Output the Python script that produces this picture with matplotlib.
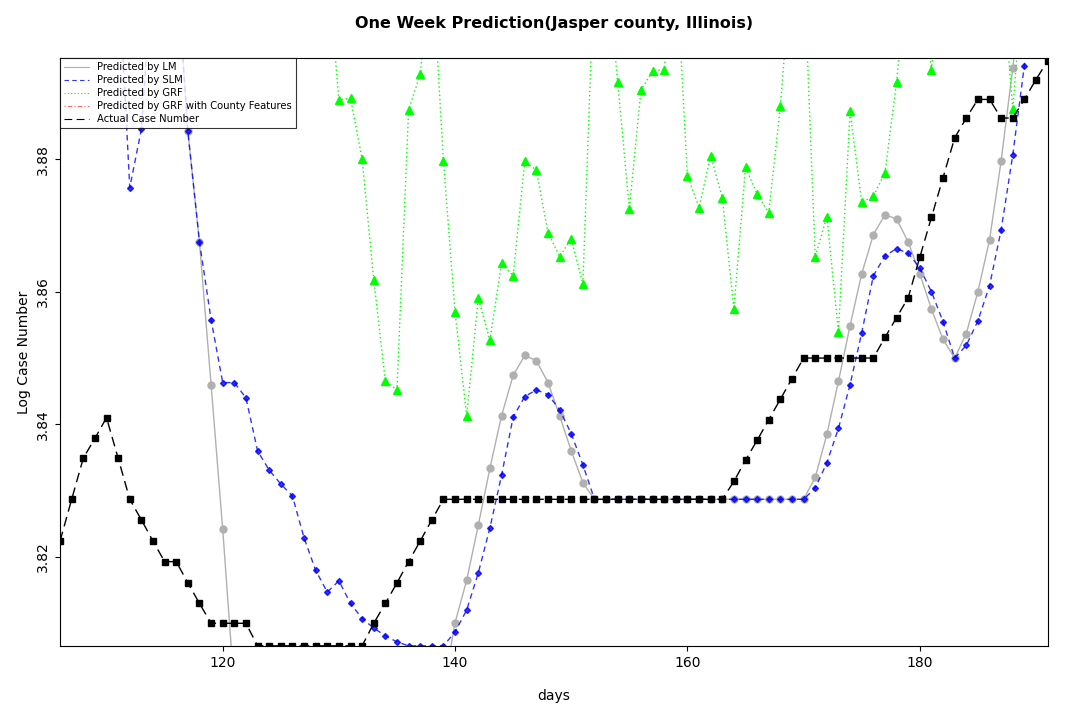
import numpy as np
import matplotlib
matplotlib.use("Agg")
import matplotlib.pyplot as plt

days = np.arange(106, 192)

# actual log case numbers
actual = [3.8224, 3.8287, 3.8349, 3.8379, 3.8410, 3.8349, 3.8287, 3.8256, 3.8224, 3.8193,
          3.8193, 3.8161, 3.8130, 3.8100, 3.8100, 3.8100, 3.8100] + [3.8066] * 10 + \
         [3.8100, 3.8130, 3.8161, 3.8193, 3.8224, 3.8256] + [3.8287] * 25 + \
         [3.8314, 3.8346, 3.8376, 3.8407, 3.8438, 3.8469] + [3.8500] * 7 + \
         [3.8531, 3.8561, 3.8591, 3.8652, 3.8712, 3.8772, 3.8832, 3.8862, 3.8890, 3.8890,
          3.8862, 3.8862, 3.8890, 3.8920, 3.8948]

lm = [3.91] * 11 + [3.8842, 3.8675, 3.8460, 3.8242] + [3.80] * 19 + \
     [3.8101, 3.8165, 3.8248, 3.8334, 3.8413, 3.8474, 3.8504, 3.8496, 3.8463, 3.8413,
      3.8360, 3.8312] + [3.8287] * 19 + \
     [3.8320, 3.8385, 3.8465, 3.8549, 3.8627, 3.8686, 3.8716, 3.8710, 3.8675, 3.8627,
      3.8574, 3.8528, 3.8500, 3.8537, 3.8600, 3.8678, 3.8797, 3.8937, 3.91, 3.91, 3.91]

slm = [3.91] * 6 + [3.8757, 3.8845, 3.91, 3.91, 3.91, 3.8842, 3.8675, 3.8558, 3.8463,
                    3.8463, 3.8440, 3.8360, 3.8331, 3.8310, 3.8292, 3.8229, 3.8180, 3.8147,
                    3.8164, 3.8130, 3.8107, 3.8093, 3.8081, 3.8072, 3.8066, 3.8066, 3.8066,
                    3.8066, 3.8087, 3.8120, 3.8176, 3.8244, 3.8323, 3.8411, 3.8442, 3.8452,
                    3.8445, 3.8422, 3.8386, 3.8339] + [3.8287] * 19 + \
      [3.8304, 3.8342, 3.8394, 3.8460, 3.8538, 3.8624, 3.8654, 3.8665, 3.8658, 3.8636,
       3.8600, 3.8555, 3.8500, 3.8519, 3.8556, 3.8609, 3.8693, 3.8806, 3.8941, 3.91, 3.91]

grf = [3.91] * 24 + \
      [3.8889, 3.8892, 3.8800, 3.8618, 3.8465, 3.8452, 3.8874, 3.8928, 3.91, 3.8797,
       3.8569, 3.8413, 3.8590, 3.8527, 3.8643, 3.8624, 3.8797, 3.8783, 3.8689, 3.8653,
       3.8680, 3.8612, 3.91, 3.91, 3.8916, 3.8725, 3.8904, 3.8933, 3.8935, 3.91,
       3.8775, 3.8727, 3.8805, 3.8742, 3.8574, 3.8788, 3.8747, 3.8719, 3.8880, 3.91,
       3.91, 3.8653, 3.8713, 3.8539, 3.8872, 3.8735, 3.8744, 3.8779, 3.8916, 3.91,
       3.91, 3.8935, 3.91, 3.91, 3.91, 3.91, 3.91, 3.91, 3.8875, 3.91, 3.91, 3.91]

fig = plt.figure(figsize=(10.8, 7.2), dpi=100)
ax = fig.add_axes([0.0556, 0.103, 0.9144, 0.816])

ax.plot(days, lm, color="#b0b0b0", lw=1, marker="o", ms=5, label="Predicted by LM")
ax.plot(days, slm, color="#0000ff", lw=1, ls=(0, (4, 3)), alpha=0.8, marker="D", ms=3,
        mfc="#0000ff", mec="#0000ff", label="Predicted by SLM")
ax.plot(days, grf, color="#00ff00", lw=1, ls=(0, (1, 2)), marker="^", ms=5.5, label="Predicted by GRF")
ax.plot([], [], color="#ff6666", lw=1, ls=(0, (1, 2, 4, 2)), label="Predicted by GRF with County Features")
ax.plot(days, actual, color="black", lw=1, ls=(0, (7, 4)), marker="s", ms=4.5, label="Actual Case Number")

ax.set_xlim(106, 191)
ax.set_ylim(3.8066, 3.8952)
ax.set_xticks([120, 140, 160, 180])
ax.set_yticks([3.82, 3.84, 3.86, 3.88])
ax.set_yticklabels(["3.82", "3.84", "3.86", "3.88"], rotation=90, va="center")
ax.tick_params(labelsize=10)
ax.set_xlabel("days", fontsize=10, labelpad=14)
ax.set_ylabel("Log Case Number", fontsize=10)
ax.set_title("One Week Prediction(Jasper county, Illinois)", fontsize=11.5, fontweight="bold", pad=22)

leg = ax.legend(loc="upper left", fontsize=7.2, frameon=True, fancybox=False, borderaxespad=0,
                edgecolor="black", handlelength=2.5, labelspacing=0.3)
leg.get_frame().set_linewidth(0.8)
for h in leg.legend_handles:
    h.set_marker("")
    h.set_linewidth(0.8)

plt.savefig("out.png")
